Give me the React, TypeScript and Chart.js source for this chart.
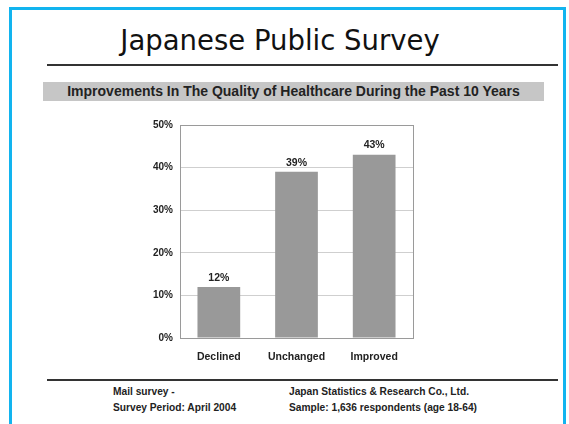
import React, { useEffect, useRef } from "react";
import { Chart, registerables } from "chart.js";

Chart.register(...registerables);

const categories = ["Declined", "Unchanged", "Improved"];
const values = [12, 39, 43];
const yTicks = [0, 10, 20, 30, 40, 50];

const title = "Japanese Public Survey";
const subtitle = "Improvements In The Quality of Healthcare During the Past 10 Years";
const footerLeft = ["Mail survey -", "Survey Period: April 2004"];
const footerRight = ["Japan Statistics & Research Co., Ltd.", "Sample: 1,636 respondents (age 18-64)"];

const FAMILY = "'Liberation Sans', Arial, sans-serif";

const valueLabels = {
  id: "valueLabels",
  afterDatasetsDraw(chart: any) {
    const ctx = chart.ctx;
    const meta = chart.getDatasetMeta(0);
    ctx.save();
    ctx.font = "bold 10.5px " + FAMILY;
    ctx.fillStyle = "#222";
    ctx.textAlign = "center";
    ctx.textBaseline = "bottom";
    meta.data.forEach((bar: any, i: number) => {
      ctx.fillText(values[i] + "%", bar.x, bar.y - 4);
    });
    ctx.restore();
  },
};

const plotBorder = {
  id: "plotBorder",
  afterDatasetsDraw(chart: any) {
    const { ctx, chartArea } = chart;
    ctx.save();
    ctx.strokeStyle = "#9a9a9a";
    ctx.lineWidth = 1;
    ctx.strokeRect(
      Math.round(chartArea.left) + 0.5,
      Math.round(chartArea.top) + 0.5,
      Math.round(chartArea.right - chartArea.left),
      Math.round(chartArea.bottom - chartArea.top)
    );
    ctx.restore();
  },
};

function BarChart() {
  const ref = useRef<HTMLCanvasElement>(null);
  useEffect(() => {
    if (!ref.current) return;
    const chart = new Chart(ref.current, {
      type: "bar",
      data: {
        labels: categories,
        datasets: [
          {
            data: values,
            backgroundColor: "#999999",
            borderWidth: 0,
            barPercentage: 0.55,
            categoryPercentage: 1,
          },
        ],
      },
      options: {
        animation: false,
        responsive: false,
        maintainAspectRatio: false,
        layout: { padding: { top: 15, right: 17, left: 0, bottom: 0 } },
        plugins: { legend: { display: false }, tooltip: { enabled: false } },
        scales: {
          x: {
            grid: { display: false },
            border: { display: true, color: "#9a9a9a" },
            ticks: { color: "#222", font: { family: FAMILY, size: 10.5, weight: "bold" }, padding: 5 },
            afterFit: (s: any) => {
              s.height = 30;
            },
          },
          y: {
            min: 0,
            max: 50,
            afterBuildTicks: (s: any) => {
              s.ticks = yTicks.map((v) => ({ value: v }));
            },
            grid: { color: "#cfcfcf", drawTicks: false },
            border: { display: true, color: "#9a9a9a" },
            ticks: {
              color: "#222",
              font: { family: FAMILY, size: 10, weight: "bold" },
              padding: 7,
              callback: (v: any) => v + "%",
            },
            afterFit: (s: any) => {
              s.width = 50;
            },
          },
        },
      },
      plugins: [valueLabels, plotBorder],
    });
    return () => chart.destroy();
  }, []);
  return (
    <canvas
      ref={ref}
      width={300}
      height={258}
      style={{ position: "absolute", left: 130, top: 110, width: 300, height: 258 }}
    />
  );
}

export default function App() {
  const abs = (s: React.CSSProperties): React.CSSProperties => ({ position: "absolute", ...s });
  const footFont: React.CSSProperties = {
    fontFamily: FAMILY,
    fontWeight: "bold",
    fontSize: 10.2,
    color: "#222",
    lineHeight: "16px",
    whiteSpace: "nowrap",
  };
  return (
    <div style={abs({ left: 0, top: 0, width: 569, height: 424, background: "#fff", overflow: "hidden" })}>
      <div style={abs({ left: 9, top: 7, width: 557, height: 430, border: "3px solid #12b4ef", borderBottom: "none", boxSizing: "border-box" })} />
      <div
        style={abs({
          left: 0,
          width: 560,
          top: 23,
          textAlign: "center",
          fontFamily: "'DejaVu Sans', Tahoma, sans-serif",
          fontSize: 27.5,
          lineHeight: "34px",
          color: "#111",
          whiteSpace: "nowrap",
        })}
      >
        {title}
      </div>
      <div style={abs({ left: 47, top: 64, width: 511, height: 2, background: "#333" })} />
      <div
        style={abs({
          left: 43,
          top: 82,
          width: 501,
          height: 19,
          background: "#c6c6c6",
          textAlign: "center",
          fontFamily: FAMILY,
          fontWeight: "bold",
          fontSize: 14,
          lineHeight: "19px",
          color: "#222",
          whiteSpace: "nowrap",
        })}
      >
        {subtitle}
      </div>
      <BarChart />
      <div style={abs({ left: 47, top: 379, width: 511, height: 2, background: "#333" })} />
      <div style={abs({ left: 113, top: 384, ...footFont })}>
        {footerLeft.map((t) => (
          <div key={t}>{t}</div>
        ))}
      </div>
      <div style={abs({ left: 289, top: 384, ...footFont })}>
        {footerRight.map((t) => (
          <div key={t}>{t}</div>
        ))}
      </div>
    </div>
  );
}
